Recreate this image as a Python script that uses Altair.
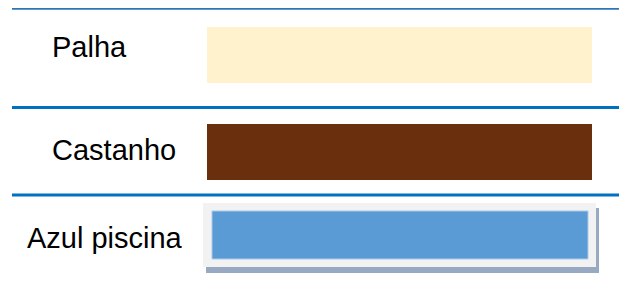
import altair as alt
import pandas as pd

# ---- data ----
categories = ["Palha", "Castanho", "Azul piscina"]
swatch_colors = ["#FFF2CC", "#6A300D", "#5B9BD5"]
row_order = [0, 1, 2]

df = pd.DataFrame({"category": categories, "swatch": swatch_colors, "row": row_order})

W, H = 611, 281


def lin(domain, rng):
    return alt.Scale(domain=domain, range=rng, zero=False, nice=False, padding=0)


# scales (layout)
x_sw = lin([0, 1], [199, 584])
y_sw = lin([0, 1, 2], [47, 144, 227])
x_sep = lin([0, 1], [4, 615])
y_sep = lin([0, 1, 2], [0.6, 99.5, 187])
x_txt = lin([0, 1, 2], [44, 44, 19])
y_txt = lin([0, 1, 2], [49, 152, 240])

base = alt.Chart(df)


def rect_enc():
    return dict(
        x=alt.X(datum=0, scale=x_sw, axis=None),
        x2=alt.X2(datum=1),
        y=alt.Y("row:Q", scale=y_sw, axis=None),
        y2=alt.Y2("row:Q"),
    )


# separators
sep_top = base.transform_filter("datum.row == 0").mark_rule(
    color="#2E75B6", strokeWidth=2.2
).encode(
    x=alt.X(datum=0, scale=x_sep, axis=None),
    x2=alt.X2(datum=1),
    y=alt.Y("row:Q", scale=y_sep, axis=None),
)
sep_rest = base.transform_filter("datum.row > 0").mark_rule(
    color="#0070C0", strokeWidth=3.2
).encode(
    x=alt.X(datum=0, scale=x_sep, axis=None),
    x2=alt.X2(datum=1),
    y=alt.Y("row:Q", scale=y_sep, axis=None),
)

# plain swatches
plain = base.transform_filter("datum.row < 2").mark_rect(
    yOffset=-28, y2Offset=28
).encode(color=alt.Color("swatch:N", scale=None), **rect_enc())

# framed swatch (Azul piscina)
framed = base.transform_filter("datum.row == 2")
shadow = framed.mark_rect(
    color="#97AAC1", xOffset=-1, x2Offset=7, yOffset=-27, y2Offset=38
).encode(**rect_enc())
frame = framed.mark_rect(
    color="#F2F2F2", xOffset=-4, x2Offset=4, yOffset=-32, y2Offset=32
).encode(**rect_enc())
inner = framed.mark_rect(
    stroke="#A9C9EA", strokeWidth=1, xOffset=5, x2Offset=-4, yOffset=-24, y2Offset=24
).encode(color=alt.Color("swatch:N", scale=None), **rect_enc())

labels = base.mark_text(
    align="left", baseline="alphabetic", font="Liberation Sans", fontSize=29, color="#000000"
).encode(
    x=alt.X("row:Q", scale=x_txt, axis=None),
    y=alt.Y("row:Q", scale=y_txt, axis=None),
    text="category:N",
)

chart = alt.layer(
    sep_top, sep_rest, plain, shadow, frame, inner, labels
).resolve_scale(
    x="independent", y="independent"
).properties(
    width=W, height=H, padding=0, autosize=alt.AutoSizeParams(type="none"), background="white"
).configure_view(stroke=None)

chart.save("out.html", embed_options={"renderer": "svg", "actions": False})
